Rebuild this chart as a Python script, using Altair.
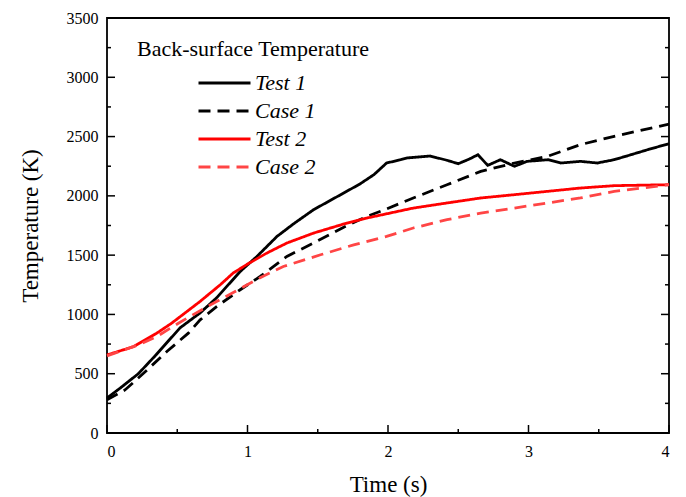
import altair as alt
import pandas as pd

FONT = "Liberation Serif"

# ---- data ----
test1_t = [0.0, 0.093, 0.223, 0.342, 0.52, 0.663, 0.78, 0.948, 1.067, 1.21, 1.33, 1.47, 1.61, 1.80, 1.90,
           1.99, 2.09, 2.14, 2.30, 2.42, 2.50, 2.58, 2.64, 2.71, 2.80, 2.90, 2.99, 3.14, 3.23, 3.37,
           3.49, 3.61, 3.73, 3.85, 4.0]
test1_T = [295, 378, 500, 650, 887, 1013, 1140, 1362, 1489, 1658, 1766, 1883, 1975, 2100, 2179,
           2277, 2305, 2320, 2336, 2300, 2271, 2311, 2347, 2257, 2305, 2249, 2291, 2305, 2277, 2291,
           2277, 2305, 2347, 2390, 2440]

case1_t = [0.0, 0.128, 0.26, 0.426, 0.579, 0.663, 0.78, 0.948, 1.09, 1.28, 1.47, 1.685, 1.85, 1.99,
           2.18, 2.42, 2.66, 2.90, 3.135, 3.37, 3.61, 4.0]
case1_T = [280, 363, 504, 687, 842, 954, 1066, 1208, 1320, 1489, 1602, 1735, 1827, 1890,
           1982, 2094, 2206, 2277, 2333, 2432, 2502, 2605]

test2_t = [0.0, 0.19, 0.354, 0.46, 0.663, 0.806, 0.899, 0.994, 1.137, 1.28, 1.47, 1.706, 1.85, 2.18, 2.42,
           2.66, 2.90, 3.135, 3.37, 3.61, 4.0]
test2_T = [658, 729, 842, 926, 1110, 1250, 1350, 1420, 1517, 1602, 1686, 1770, 1813, 1897, 1940,
           1982, 2010, 2038, 2066, 2086, 2094]

case2_t = [0.0, 0.223, 0.354, 0.508, 0.734, 0.899, 1.09, 1.255, 1.52, 1.756, 1.99, 2.18, 2.42, 2.66,
           2.90, 3.135, 3.37, 3.61, 4.0]
case2_T = [650, 743, 813, 926, 1080, 1185, 1310, 1404, 1503, 1587, 1658, 1729, 1799, 1855,
           1897, 1940, 1982, 2038, 2094]

series_names = ["Test 1", "Case 1", "Test 2", "Case 2"]
series_colors = ["#000000", "#000000", "#ff0000", "#ff4545"]
series_dashes = [[1, 0], [12, 7], [1, 0], [12, 7]]

x_major = [0, 1, 2, 3, 4]
x_minor = [0.5, 1.5, 2.5, 3.5]
y_major = [0, 500, 1000, 1500, 2000, 2500, 3000, 3500]
y_minor = [250, 750, 1250, 1750, 2250, 2750, 3250]

# ---- build tables ----
rows = []
for name, ts, Ts in zip(series_names, [test1_t, case1_t, test2_t, case2_t],
                        [test1_T, case1_T, test2_T, case2_T]):
    for i, (t, T) in enumerate(zip(ts, Ts)):
        rows.append({"series": name, "t": t, "T": T, "order": i})
df = pd.DataFrame(rows)

W, H = 562, 415

xscale = alt.Scale(domain=[0, 4], nice=False, zero=False)
yscale = alt.Scale(domain=[0, 3500], nice=False)

legend = alt.Legend(
    title="Back-surface Temperature", orient="none", legendX=30, legendY=21,
    titleFont=FONT, titleFontSize=22, titleFontWeight="normal", titleColor="black",
    titlePadding=8, titleLimit=400, labelFont=FONT, labelFontSize=22, labelFontStyle="italic",
    labelColor="black", symbolType="stroke", symbolSize=2704, symbolStrokeWidth=3,
    symbolOffset=60, labelOffset=3, clipHeight=28, rowPadding=0, padding=0,
    labelLimit=200,
)

lines = alt.Chart(df).mark_line(strokeWidth=2.8).encode(
    x=alt.X("t:Q", scale=xscale,
            axis=alt.Axis(title="Time (s)", values=x_major, format="d", grid=False,
                          ticks=False, domain=False, labelPadding=10, titlePadding=14)),
    y=alt.Y("T:Q", scale=yscale,
            axis=alt.Axis(title="Temperature (K)", values=y_major, format="d", grid=False,
                          ticks=False, domain=False, labelPadding=9, titlePadding=24)),
    color=alt.Color("series:N", scale=alt.Scale(domain=series_names, range=series_colors),
                    legend=legend),
    strokeDash=alt.StrokeDash("series:N", scale=alt.Scale(domain=series_names, range=series_dashes),
                              legend=legend),
    order="order:Q",
)

xt_major = pd.DataFrame({"v": x_major})
xt_minor = pd.DataFrame({"v": x_minor})
yt_major = pd.DataFrame({"v": y_major})
yt_minor = pd.DataFrame({"v": y_minor})

def xticks(d, L):
    return alt.Chart(d).mark_rule(color="black", strokeWidth=1.5).encode(
        x=alt.X("v:Q", scale=xscale), y=alt.value(H), y2=alt.value(H - L))

def yticks(d, L, right=False):
    if right:
        return alt.Chart(d).mark_rule(color="black", strokeWidth=1.5).encode(
            y=alt.Y("v:Q", scale=yscale), x=alt.value(W), x2=alt.value(W - L))
    return alt.Chart(d).mark_rule(color="black", strokeWidth=1.5).encode(
        y=alt.Y("v:Q", scale=yscale), x=alt.value(0), x2=alt.value(L))

chart = alt.layer(
    lines,
    xticks(xt_major, 8), xticks(xt_minor, 4),
    yticks(yt_major, 8), yticks(yt_minor, 4),
    yticks(yt_major, 8, True), yticks(yt_minor, 4, True),
).properties(
    width=W, height=H,
    background="white",
    autosize=alt.AutoSizeParams(type="none"),
    padding={"left": 107, "top": 18, "right": 17, "bottom": 64},
).configure_view(
    stroke="black", strokeWidth=1.8
).configure_axis(
    labelFont=FONT, labelFontSize=16, labelColor="black",
    titleFont=FONT, titleFontSize=23, titleFontWeight="normal", titleColor="black",
)

chart.save("out.html", embed_options={"renderer": "svg", "actions": False})
